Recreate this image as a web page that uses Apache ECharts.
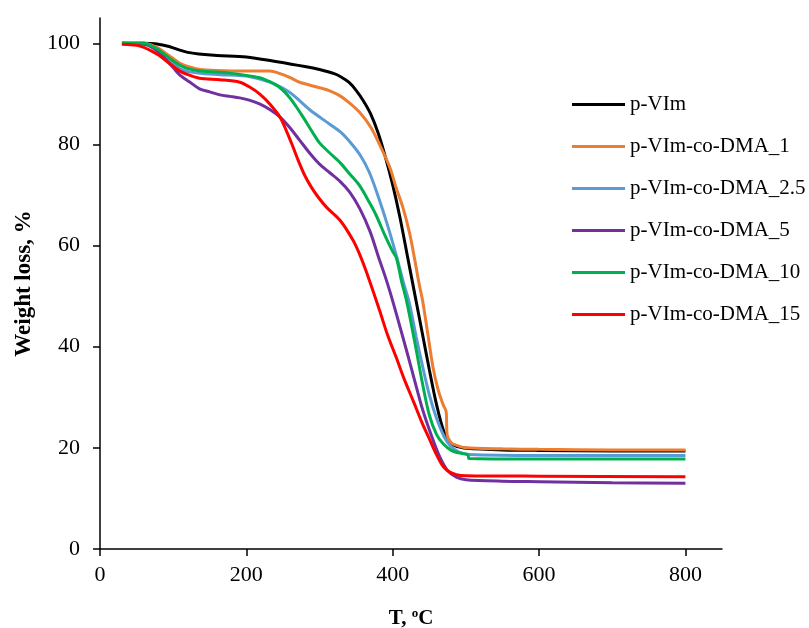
<!DOCTYPE html>
<html><head><meta charset="utf-8">
<script src="https://cdn.jsdelivr.net/npm/echarts@6/dist/echarts.min.js"></script>
<style>html,body{margin:0;padding:0;background:#fff}#c{width:809px;height:628px}</style>
</head><body><div id="c"></div>
<script>
const seriesNames = ['p-VIm','p-VIm-co-DMA_1','p-VIm-co-DMA_2.5','p-VIm-co-DMA_5','p-VIm-co-DMA_10','p-VIm-co-DMA_15'];
const seriesColors = ['#000000','#ED7D31','#5B9BD5','#7030A0','#00B050','#FF0000'];
const xTicks = [0,200,400,600,800];
const yTicks = [0,20,40,60,80,100];

const pVIm = [[30,100],[60,100],[75,99.9],[90,99.5],[100,99.1],[110,98.6],[120,98.2],[135,97.9],[160,97.6],[200,97.3],[240,96.4],[280,95.4],[300,94.8],[320,94.0],[330,93.3],[340,92.3],[350,90.7],[360,88.6],[370,86.0],[380,82.3],[390,77.5],[400,72],[410,65.5],[420,58],[430,50.5],[440,43],[450,35.5],[460,28.5],[470,23.2],[480,20.8],[490,20.2],[500,19.9],[550,19.6],[600,19.5],[700,19.4],[800,19.4]];
const dma1 = [[30,100],[60,100],[70,99.7],[80,99.0],[90,98.0],[100,97.0],[110,96.0],[120,95.4],[137,94.8],[160,94.6],[200,94.5],[232,94.5],[246,94.0],[260,93.2],[273,92.3],[300,91.2],[314,90.6],[328,89.6],[340,88.3],[355,86.3],[370,83.4],[382,80.0],[396,75.5],[405,71.3],[414,67.5],[423,62.5],[430,57.3],[436,52.5],[441,49],[448,42.5],[455,36],[462,31.5],[469,28.5],[473,27.2],[474.5,22.5],[480,21.0],[487,20.5],[500,20.0],[550,19.8],[600,19.7],[700,19.6],[800,19.6]];
const dma25 = [[30,100],[60,100],[70,99.5],[80,98.5],[90,97.2],[100,96.0],[110,94.9],[120,94.4],[140,94.0],[164,93.8],[205,93.4],[232,92.3],[259,90.3],[287,86.8],[314,84.0],[330,82.3],[341,80.6],[355,78.0],[368,74.5],[380,69.8],[393,64.0],[405,58.0],[415,52.5],[423,48.5],[432,42],[441,36],[450,30.5],[460,25.8],[470,22.3],[478,20.5],[490,19.2],[505,18.7],[600,18.5],[800,18.5]];
const dma5 = [[30,100],[60,99.8],[70,99.3],[80,98.3],[90,96.8],[100,95.2],[110,93.6],[123,92.3],[136,91.0],[150,90.4],[164,89.8],[178,89.5],[191,89.2],[205,88.7],[218,88.0],[232,86.9],[246,85.4],[259,83.4],[273,80.8],[287,78.2],[300,76.1],[314,74.4],[328,72.7],[341,70.6],[355,67.3],[369,62.8],[380,58.0],[389,54.2],[396,51.0],[405,46.5],[419,39.2],[430,33.3],[441,27.5],[452,22.8],[464,18.3],[475,15.5],[487,14.2],[500,13.7],[550,13.4],[600,13.3],[700,13.1],[800,13.0]];
const dma10 = [[30,100],[60,100],[70,99.5],[80,98.7],[90,97.6],[100,96.5],[110,95.6],[120,95.0],[137,94.5],[177,94.1],[218,93.2],[232,92.4],[246,91.2],[259,89.3],[268,87.5],[278,85.3],[290,82.5],[300,80.3],[314,78.3],[328,76.4],[341,74.2],[355,71.8],[369,68.3],[378,65.8],[390,61.8],[400,58.8],[405,57.6],[412,53],[419,49],[426,44],[432,39.5],[441,32.5],[450,26.5],[460,22.6],[469,20.8],[480,19.5],[490,19.0],[503,18.6],[504,17.9],[600,17.8],[800,17.8]];
const dma15 = [[30,99.8],[50,99.6],[60,99.2],[70,98.5],[82,97.5],[95,96.0],[109,94.5],[120,93.8],[136,93.1],[164,92.8],[191,92.3],[205,91.3],[218,90.0],[232,88.0],[246,85.4],[255,82.6],[263,79.8],[271,76.8],[280,73.8],[289,71.5],[298,69.6],[310,67.5],[328,65.0],[346,61.0],[355,58.2],[364,54.8],[382,47.2],[393,42.3],[405,37.8],[416,33.5],[428,29.3],[440,25.0],[450,21.8],[460,18.6],[469,16.3],[478,15.2],[487,14.7],[500,14.5],[600,14.4],[800,14.3]];

const allData = [pVIm, dma1, dma25, dma5, dma10, dma15];
const FONT = 'Liberation Serif, Times New Roman, serif';

const chart = echarts.init(document.getElementById('c'), null, {renderer:'canvas'});
chart.setOption({
  animation: false,
  backgroundColor: '#fff',
  grid: {left: 100, right: 87, top: 18, bottom: 79, containLabel: false, outerBoundsMode: 'none'},
  legend: {
    orient: 'vertical', left: 572, top: 94, itemGap: 21, padding: 0,
    icon: 'rect', itemWidth: 53, itemHeight: 3,
    textStyle: {fontFamily: FONT, fontSize: 21, color: '#000'},
    data: seriesNames
  },
  xAxis: {
    type: 'value', min: 0, max: 850, interval: 200,
    name: '{a|T, }{b|o}{a|C}', nameLocation: 'middle', nameGap: 58,
    nameTextStyle: {rich: {
      a: {fontFamily: FONT, fontSize: 21, fontWeight: 'bold', color: '#000', lineHeight: 24},
      b: {fontFamily: FONT, fontSize: 13, fontWeight: 'bold', color: '#000', verticalAlign: 'top', lineHeight: 24}
    }},
    axisLine: {show: true, lineStyle: {color: '#000', width: 1.5}},
    axisTick: {show: true, length: 7, lineStyle: {color: '#000', width: 1.5}, customValues: xTicks},
    axisLabel: {fontFamily: FONT, fontSize: 22, color: '#000', margin: 15, customValues: xTicks},
    splitLine: {show: false}
  },
  yAxis: {
    type: 'value', min: 0, max: 105, interval: 20,
    name: 'Weight loss, %', nameLocation: 'middle', nameGap: 64,
    nameTextStyle: {fontFamily: FONT, fontSize: 23, fontWeight: 'bold', color: '#000'},
    axisLine: {show: true, lineStyle: {color: '#000', width: 1.5}},
    axisTick: {show: true, length: 7, lineStyle: {color: '#000', width: 1.5}, customValues: yTicks},
    axisLabel: {fontFamily: FONT, fontSize: 22, color: '#000', margin: 20, customValues: yTicks},
    splitLine: {show: false}
  },
  series: allData.map((d, i) => ({
    name: seriesNames[i], type: 'line', data: d,
    showSymbol: false, symbol: 'none',
    smooth: 0.3,
    color: seriesColors[i],
    lineStyle: {width: 3, color: seriesColors[i]}
  }))
});
</script>
</body></html>
